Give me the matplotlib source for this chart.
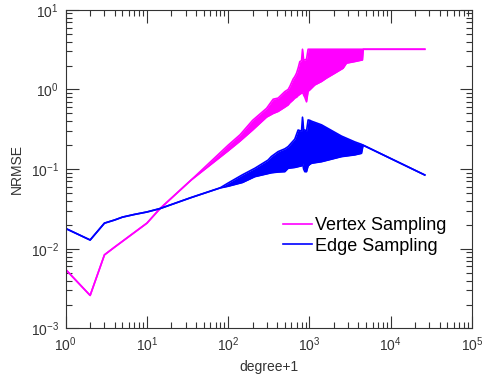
import matplotlib
matplotlib.use("Agg")
import matplotlib.pyplot as plt
import numpy as np

plt.rcParams['font.family'] = ['Liberation Sans', 'DejaVu Sans']
plt.rcParams['mathtext.fontset'] = 'custom'
plt.rcParams['mathtext.rm'] = 'Liberation Sans'
plt.rcParams['mathtext.it'] = 'Liberation Sans'

# Vertex sampling: degree+1 and NRMSE band (low / high)
vertex_deg = [1, 2, 3, 4, 10, 14.5, 35, 100, 140, 200, 297, 358, 412, 498, 547,
              574, 630, 661, 694, 726, 762, 800, 822, 850, 878, 921, 964, 1012,
              1165, 1409, 1623, 2052, 2600, 2860, 3615, 4500, 4600, 26300]
vertex_lo = [0.0055, 0.0026, 0.0084, 0.0105, 0.021, 0.032, 0.073, 0.17, 0.225,
             0.31, 0.45, 0.50, 0.53, 0.60, 0.64, 0.68, 0.74, 0.78, 0.80, 0.84,
             0.87, 0.90, 0.95, 0.85, 0.80, 0.70, 0.95, 0.99, 1.14, 1.26, 1.39,
             1.60, 1.85, 2.14, 2.24, 2.35, 3.2, 3.2]
vertex_hi = [0.0055, 0.0026, 0.0084, 0.0105, 0.021, 0.032, 0.073, 0.20, 0.27,
             0.41, 0.58, 0.755, 0.78, 0.94, 1.0, 1.09, 1.35, 1.45, 1.60, 1.85,
             2.24, 2.3, 3.2, 2.35, 2.35, 2.4, 3.2, 3.2, 3.2, 3.2, 3.2, 3.2, 3.2,
             3.2, 3.2, 3.2, 3.2, 3.2]

# Edge sampling
edge_deg = [1, 2, 3, 4, 5, 7, 10, 14.5, 35, 79, 100, 150, 213, 310, 340, 412,
            498, 547, 661, 726, 800, 822, 850, 878, 921, 964, 1012, 1062, 1409,
            2483, 3615, 4375, 4580, 26300]
edge_lo = [0.018, 0.0129, 0.021, 0.023, 0.025, 0.027, 0.029, 0.032, 0.044,
           0.058, 0.061, 0.068, 0.0805, 0.088, 0.090, 0.092, 0.093, 0.1026,
           0.105, 0.1075, 0.11, 0.12, 0.10, 0.093, 0.093, 0.11, 0.115, 0.1186,
           0.124, 0.1436, 0.151, 0.158, 0.20, 0.0845]
edge_hi = [0.018, 0.0129, 0.021, 0.023, 0.025, 0.027, 0.029, 0.032, 0.044,
           0.058, 0.067, 0.085, 0.1026, 0.13, 0.144, 0.166, 0.18, 0.192, 0.238,
           0.31, 0.30, 0.449, 0.31, 0.31, 0.30, 0.415, 0.41, 0.40, 0.36,
           0.26, 0.22, 0.205, 0.20, 0.0845]

magenta = '#FF00FF'
blue = '#0000FF'
axcol = '#333333'

fig = plt.figure(figsize=(4.83, 3.78), dpi=100)
ax = fig.add_axes([0.136, 0.131, 0.841, 0.843])

ax.fill_between(vertex_deg, vertex_lo, vertex_hi, color=magenta, lw=0)
ax.plot(vertex_deg, vertex_lo, color=magenta, lw=1.2)
ax.plot(vertex_deg, vertex_hi, color=magenta, lw=1.2, label='Vertex Sampling')
ax.fill_between(edge_deg, edge_lo, edge_hi, color=blue, lw=0)
ax.plot(edge_deg, edge_lo, color=blue, lw=1.2)
ax.plot(edge_deg, edge_hi, color=blue, lw=1.2, label='Edge Sampling')

ax.set_xscale('log')
ax.set_yscale('log')
ax.set_xlim(1, 1e5)
ax.set_ylim(1e-3, 10)

ax.tick_params(which='both', direction='in', top=True, right=True,
               colors=axcol, labelsize=10, width=0.8)
ax.tick_params(which='major', length=9, pad=5)
ax.tick_params(which='minor', length=4.3)
for s in ax.spines.values():
    s.set_color(axcol)
    s.set_linewidth(0.8)

ax.set_xlabel('degree+1', fontsize=10, color=axcol, labelpad=4)
ax.set_ylabel('NRMSE', fontsize=10, color=axcol, labelpad=5)

ax.legend(loc='upper left', bbox_to_anchor=(283 / 483, 1 - 217 / 378),
          bbox_transform=fig.transFigure, frameon=False, fontsize=13,
          borderpad=0, borderaxespad=0, handlelength=1.6, handletextpad=0.15,
          labelspacing=0.2)

fig.savefig('out.png', dpi=100)
